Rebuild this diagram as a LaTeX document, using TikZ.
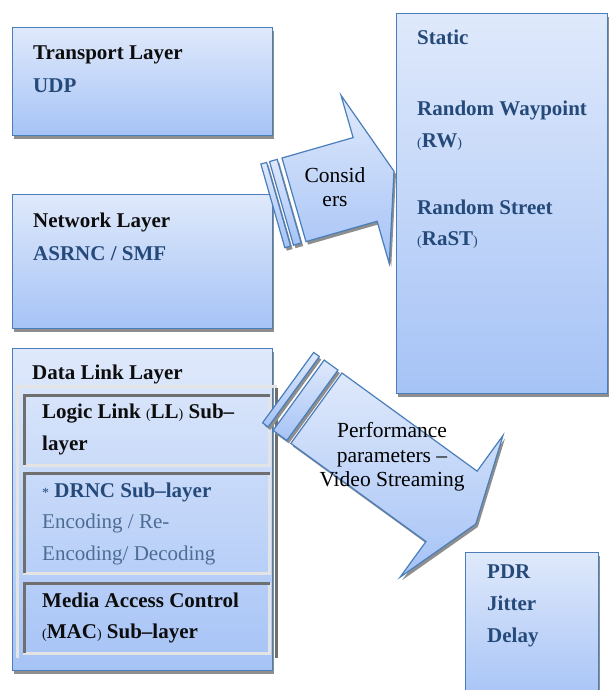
\documentclass[tikz,border=0pt]{standalone}
\usepackage{fontspec}
\setmainfont{Liberation Serif}
\usetikzlibrary{shadows}
\definecolor{boxedge}{HTML}{4A7EBB}
\definecolor{boxtop}{HTML}{DFE9FB}
\definecolor{boxbot}{HTML}{A6C3F6}
\definecolor{navytext}{HTML}{254A7A}
\definecolor{softtext}{HTML}{4D6C94}
\definecolor{insetdark}{HTML}{6F6F6F}
\definecolor{insetlight}{HTML}{E4E4E4}
\definecolor{shadowgray}{HTML}{8E8E8E}
\newcommand\sparen[1]{{\fontsize{14}{14}\selectfont\mdseries #1}}
\begin{document}
\begin{tikzpicture}[x=1pt,y=-1pt,
  layerbox/.style={draw=boxedge, line width=1.4pt, top color=boxtop, bottom color=boxbot,
    inner sep=0pt, anchor=north west,
    drop shadow={shadow xshift=1.5pt, shadow yshift=-3pt, fill=shadowgray, opacity=1}},
  title/.style={anchor=base west, inner sep=0pt, font=\fontsize{21}{21}\selectfont\bfseries, text=black!95},
  item/.style={title, text=navytext},
  plaintext/.style={anchor=base west, inner sep=0pt, font=\fontsize{21}{21}\selectfont, text=softtext},
  arrowtext/.style={align=center, inner sep=0pt, font=\fontsize{21.5}{24.5}\selectfont, text=black},
  arrowpart/.style={draw=boxedge, line width=1.2pt, top color=boxtop, bottom color=boxbot},
  arrowshade/.style={fill=shadowgray},
  darkedge/.style={insetdark, line width=3pt},
  lightedge/.style={insetlight, line width=3pt},
]
\useasboundingbox (0,0) rectangle (609,690);

% left column: transport and network layers
\node[layerbox, minimum width=260pt, minimum height=108pt] (transport) at (12,27) {};
\node[layerbox, minimum width=260pt, minimum height=134pt] (network) at (12,194) {};
\node[title] (transportT) at (33,60) {Transport Layer};
\node[item]  (udp) at (33,93) {UDP};
\node[title] (networkT) at (33,227) {Network Layer};
\node[item]  (asrnc) at (33,260) {ASRNC / SMF};

% striped block arrow "Considers"
\begin{scope}[shift={(284,161)}, rotate=16]
  \fill[arrowshade] (-22,0) rectangle (-16,87);
  \fill[arrowshade] (-13,0) rectangle (-5,87);
  \fill[arrowshade] (0,0) -- (74,0) -- (74,-44) -- (104,43.5) -- (74,131) -- (74,87) -- (0,87) -- cycle;
\end{scope}
\begin{scope}[shift={(282,158)}, rotate=16]
  \path[arrowpart] (-22,0) rectangle (-16,87);
  \path[arrowpart] (-13,0) rectangle (-5,87);
  \path[arrowpart] (0,0) -- (74,0) -- (74,-44) -- (104,43.5) -- (74,131) -- (74,87) -- (0,87) -- cycle;
\end{scope}
\node[arrowtext] (considers) at (335,187) {Consid\\ers};

% mobility models
\node[layerbox, minimum width=211pt, minimum height=380pt] (mobility) at (396,13) {};
\node[item] (static) at (417,45) {Static};
\node[item] (rw) at (417,116) {Random Waypoint};
\node[item] (rwabbr) at (417,147) {\sparen{(}RW\sparen{)}};
\node[item] (rast) at (417,214) {Random Street};
\node[item] (rastabbr) at (417,245) {\sparen{(}RaST\sparen{)}};

% data link layer with its sub-layers
\node[layerbox, minimum width=260pt, minimum height=322pt] (datalink) at (12,348) {};
\draw[lightedge] (17,658) -- (17,386) -- (277,386);
\draw[darkedge] (276,388) -- (276,658);
% logic link sub-layer
\draw[lightedge] (269,395) -- (269,465) -- (23,465);
\draw[darkedge] (24,465) -- (24,395) -- (270,395);
% DRNC sub-layer
\draw[lightedge] (269,473) -- (269,573) -- (23,573);
\draw[darkedge] (24,573) -- (24,473) -- (270,473);
% MAC sub-layer
\draw[lightedge] (269,583) -- (269,653) -- (23,653);
\draw[darkedge] (24,653) -- (24,583) -- (270,583);

\node[title] (datalinkT) at (32,379) {Data Link Layer};
\node[title] (ll1) at (42,418) {Logic Link \sparen{(}LL\sparen{)} Sub–};
\node[title] (ll2) at (42,450) {layer};
\node[item] (drnc) at (42,497) {\sparen{*} DRNC Sub–layer};
\node[plaintext] (enc1) at (42,528) {Encoding / Re-};
\node[plaintext] (enc2) at (42,560) {Encoding/ Decoding};
\node[title] (mac1) at (42,607) {Media Access Control};
\node[title] (mac2) at (42,638) {\sparen{(}MAC\sparen{)} Sub–layer};

% striped block arrow "Performance parameters"
\begin{scope}[shift={(344,376)}, rotate=-36]
  \fill[arrowshade] (-35,0) rectangle (-28,87);
  \fill[arrowshade] (-22,0) rectangle (-5,87);
  \fill[arrowshade] (0,0) -- (167,0) -- (167,-44) -- (197,43.5) -- (167,131) -- (167,87) -- (0,87) -- cycle;
\end{scope}
\begin{scope}[shift={(342,373)}, rotate=-36]
  \path[arrowpart] (-35,0) rectangle (-28,87);
  \path[arrowpart] (-22,0) rectangle (-5,87);
  \path[arrowpart] (0,0) -- (167,0) -- (167,-44) -- (197,43.5) -- (167,131) -- (167,87) -- (0,87) -- cycle;
\end{scope}
\node[arrowtext] (perf) at (392,457) {Performance\\parameters –\\Video Streaming};

% performance metrics
\node[layerbox, minimum width=133pt, minimum height=150pt] (metrics) at (465,552) {};
\node[item] (pdr) at (487,578) {PDR};
\node[item] (jitter) at (487,610) {Jitter};
\node[item] (delay) at (487,642) {Delay};
\end{tikzpicture}
\end{document}
